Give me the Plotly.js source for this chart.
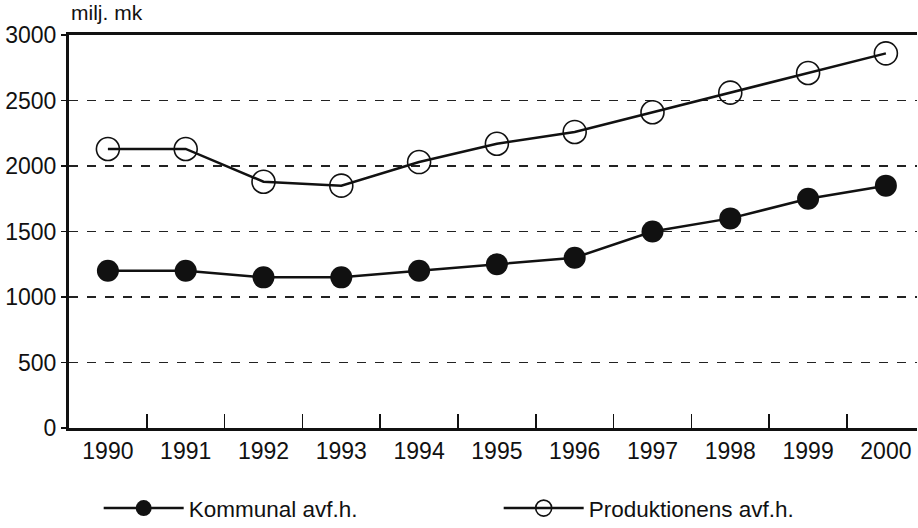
<!DOCTYPE html>
<html>
<head>
<meta charset="utf-8">
<script src="https://cdn.plot.ly/plotly-3.0.1.min.js"></script>
<style>html,body{margin:0;padding:0;background:#fff;}#chart{width:918px;height:528px;}</style>
</head>
<body>
<div id="chart"></div>
<script>
const years = ['1990','1991','1992','1993','1994','1995','1996','1997','1998','1999','2000'];
const kommunal = [1200,1200,1150,1150,1200,1250,1300,1500,1600,1750,1850];
const produktionens = [2130,2130,1880,1850,2030,2170,2260,2410,2560,2710,2860];
const yTicks = [0,500,1000,1500,2000,2500,3000];
const unitLabel = 'milj. mk';
const seriesNames = ['Kommunal avf.h.', 'Produktionens avf.h.'];

const FONT = 'Liberation Sans, Arial, sans-serif';

const traces = [
  {
    x: years, y: kommunal, name: seriesNames[0], type: 'scatter', mode: 'lines+markers',
    line: {color: '#111', width: 2.5},
    marker: {symbol: 'circle', size: 22, color: '#111'}
  },
  {
    x: years, y: produktionens, name: seriesNames[1], type: 'scatter', mode: 'lines+markers',
    line: {color: '#111', width: 2.5},
    marker: {symbol: 'circle-open', size: 23, color: '#111', line: {width: 1.6, color: '#111'}}
  }
];

const layout = {
  width: 918, height: 528,
  margin: {l: 69, r: 1, t: 35, b: 100},
  paper_bgcolor: '#fff', plot_bgcolor: '#fff',
  font: {family: FONT, color: '#111', size: 22},
  showlegend: true,
  legend: {
    orientation: 'h', x: 0.035, xanchor: 'left',
    yref: 'container', y: 0.037, yanchor: 'middle',
    font: {family: FONT, size: 22.5, color: '#111'},
    entrywidth: 305, entrywidthmode: 'pixels', itemwidth: 80,
    bgcolor: 'rgba(0,0,0,0)'
  },
  xaxis: {
    type: 'category', range: [-0.5, 10.4],
    tickson: 'boundaries', ticks: 'inside', ticklen: 14, tickwidth: 1.5, tickcolor: '#111',
    showline: true, linewidth: 3, linecolor: '#111', mirror: true,
    showgrid: false, zeroline: false, automargin: false,
    tickfont: {family: FONT, size: 23, color: '#111'}
  },
  yaxis: {
    range: [0, 3000], tickvals: yTicks, ticktext: yTicks.map(String),
    ticks: 'outside', ticklen: 5, tickwidth: 1.5, tickcolor: '#111',
    showline: true, linewidth: 3, linecolor: '#111',
    showgrid: true, gridcolor: '#222', griddash: 'dash', gridwidth: 1.3,
    zeroline: false, automargin: false,
    tickfont: {family: FONT, size: 23, color: '#111'}
  },
  annotations: [
    {text: unitLabel, xref: 'paper', yref: 'paper', x: 0, y: 1, yshift: 9,
     xanchor: 'left', yanchor: 'bottom', showarrow: false,
     font: {family: FONT, size: 21, color: '#111'}}
  ]
};

Plotly.newPlot('chart', traces, layout, {displayModeBar: false, staticPlot: true});
</script>
</body>
</html>
